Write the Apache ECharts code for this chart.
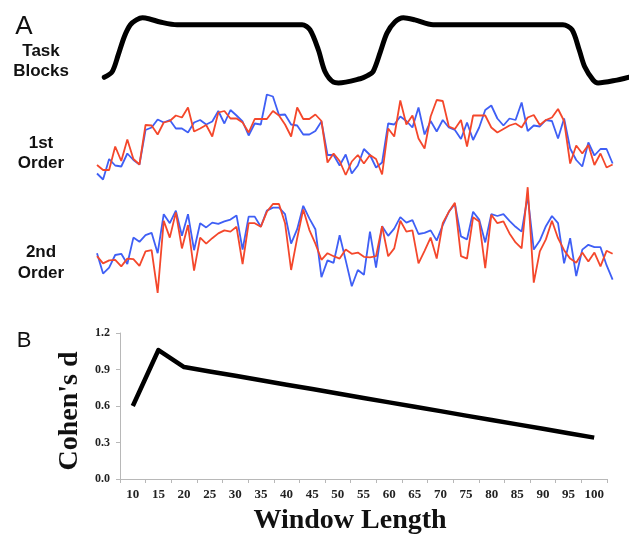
<!DOCTYPE html>
<html lang="en">
  <head>
    <meta charset="UTF-8" />
    <title>Task blocks and Cohen's d</title>
    <script src="https://cdn.jsdelivr.net/npm/echarts@6/dist/echarts.min.js"></script>
    <style>
      html, body { margin: 0; padding: 0; background: #fff; }
      #main { width: 629px; height: 536px; }
    </style>
  </head>
  <body>
    <div id="main"></div>
    <script>
      // task regressor, [time (volumes), level]
      var taskTime = [1.2, 2.5, 3.5, 4.5, 5.5, 6.5, 7.5, 8.8, 10.4, 13.2, 33.8, 35.1, 36.5, 37.6, 39, 39.8,
        43.4, 44.5, 45.5, 46.7, 47.8, 49.1, 50.5, 52.4, 55.4, 76.8, 78.3, 79.5, 80.4, 81.8, 82.6, 85.7, 87.7, 89.5];
      var taskLevel = [0.11, 0.19, 0.43, 0.69, 0.86, 0.93, 0.96, 0.94, 0.9, 0.86, 0.86, 0.79, 0.5, 0.19, 0.04, 0.03,
        0.09, 0.13, 0.19, 0.47, 0.74, 0.9, 0.96, 0.93, 0.86, 0.86, 0.79, 0.5, 0.26, 0.07, 0.03, 0.07, 0.11, 0.14];

      // 1st order, one value per volume
      var first_blue = [-0.77, -0.89, -0.48, -0.61, -0.63, -0.37, -0.5, -0.59, 0.1, 0.15, 0.31, 0.25, 0.3, 0.13, 0.13,
        0.05, 0.25, 0.3, 0.21, 0.27, 0.48, 0.23, 0.5, 0.39, 0.27, -0.01, 0.23, 0.21, 0.81, 0.77, 0.4, 0.41, 0.21, 0.19,
        0.01, 0.01, 0.08, 0.27, -0.4, -0.4, -0.61, -0.39, -0.77, -0.61, -0.28, -0.4, -0.65, -0.55, 0.23, 0.21, 0.37,
        0.28, 0.15, 0.55, 0.01, 0.28, 0.07, 0.3, 0.15, 0.1, -0.08, 0.25, -0.1, 0.15, 0.5, 0.59, 0.33, 0.19, 0.33, 0.3,
        0.65, 0.08, 0.19, 0.17, 0.3, 0.28, -0.07, 0.33, -0.27, -0.5, -0.63, -0.15, -0.41, -0.28, -0.28, -0.57];
      var first_red = [-0.6, -0.7, -0.7, -0.23, -0.52, -0.09, -0.48, -0.59, 0.2, 0.19, 0.01, 0.25, 0.28, 0.39, 0.35,
        0.55, 0.07, 0.13, 0.2, -0.03, 0.45, 0.48, 0.33, 0.33, 0.25, 0.05, 0.32, 0.32, 0.32, 0.48, 0.39, 0.21, -0.03,
        0.55, 0.32, 0.32, 0.41, 0.28, -0.55, -0.37, -0.52, -0.8, -0.53, -0.4, -0.57, -0.4, -0.48, -0.79, 0.13, -0.03,
        0.69, 0.21, 0.39, -0.07, -0.27, 0.37, 0.7, 0.68, 0.17, 0.12, 0.3, -0.23, 0.39, 0.39, 0.39, 0.15, 0.05, 0.12,
        0.19, 0.23, 0.15, 0.35, 0.4, 0.2, 0.3, 0.35, 0.52, 0.28, -0.57, -0.21, -0.37, -0.2, -0.6, -0.37, -0.65, -0.59];

      // 2nd order
      var second_blue = [-0.22, -0.56, -0.46, -0.25, -0.23, -0.4, 0.04, -0.03, 0.08, 0.12, -0.22, 0.43, 0.28, 0.49,
        0.07, 0.43, -0.17, 0.28, 0.21, 0.29, 0.27, 0.31, 0.34, 0.41, -0.16, 0.39, 0.39, 0.22, 0.49, 0.54, 0.54, 0.43,
        -0.06, 0.18, 0.57, 0.36, 0.18, -0.62, -0.34, -0.38, 0.08, -0.34, -0.77, -0.5, -0.58, 0.14, -0.46, 0.23, 0.07,
        0.19, 0.38, 0.29, 0.33, 0.1, 0.12, 0.16, -0.01, 0.25, 0.47, 0.6, 0.06, 0.01, 0.47, 0.34, -0.04, 0.43, 0.4, 0.43,
        0.32, 0.22, 0.14, 0.73, -0.16, -0.01, 0.23, 0.4, 0.28, -0.39, 0.03, -0.6, -0.16, -0.08, -0.12, -0.12, -0.42, -0.66];
      var second_red = [-0.27, -0.39, -0.34, -0.33, -0.44, -0.31, -0.32, -0.43, -0.19, -0.17, -0.88, 0.32, 0.04, 0.46,
        -0.14, 0.25, -0.51, 0.04, -0.06, 0.03, 0.11, 0.16, 0.14, 0.22, -0.4, 0.28, 0.28, 0.22, 0.47, 0.6, 0.6, 0.28,
        -0.5, 0.03, 0.51, 0.17, -0.06, -0.33, -0.22, -0.27, -0.31, -0.16, -0.23, -0.21, -0.28, -0.29, -0.27, 0.23, -0.27,
        -0.14, 0.32, 0.14, 0.16, -0.39, -0.18, 0.04, -0.31, 0.28, 0.47, 0.62, -0.27, -0.31, 0.38, 0.31, -0.47, 0.42, 0.28,
        0.31, 0.11, -0.04, -0.14, 0.88, -0.71, -0.19, 0.01, 0.32, 0.03, -0.17, -0.31, -0.38, -0.21, -0.36, -0.21, -0.44,
        -0.18, -0.23];

      // panel B
      var windows = ["10", "15", "20", "25", "30", "35", "40", "45", "50", "55", "60", "65", "70", "75", "80", "85", "90", "95", "100"];
      var cohensD = [0.6, 1.06, 0.92, 0.884, 0.848, 0.811, 0.775, 0.739, 0.703, 0.666, 0.63, 0.594, 0.558, 0.521,
        0.485, 0.449, 0.413, 0.376, 0.34];
      var yTicks = [0, 0.3, 0.6, 0.9, 1.2];

      var BLUE = "#3f5ff5";
      var RED = "#f4472b";
      var SANS = "Liberation Sans, Arial, sans-serif";
      var SERIF = "Liberation Serif, Times New Roman, serif";

      function pairs(t, v) {
        return t.map(function (x, i) { return [x, v[i]]; });
      }
      function idx(v) {
        return v.map(function (y, i) { return [i, y]; });
      }

      var topX = { type: "value", min: 0, max: 87.7, show: false };

      var myChart = echarts.init(document.getElementById("main"));
      var option = {
        animation: false,
        backgroundColor: "#fff",
        grid: [
          { left: 97, right: 0, top: 15, height: 70 },
          { left: 97, right: 0, top: 85, height: 100 },
          { left: 97, right: 0, top: 180, height: 120 },
          { left: 120, right: 22, top: 333, bottom: 57 }
        ],
        xAxis: [
          Object.assign({ gridIndex: 0 }, topX),
          Object.assign({ gridIndex: 1 }, topX),
          Object.assign({ gridIndex: 2 }, topX),
          {
            gridIndex: 3,
            type: "category",
            data: windows,
            boundaryGap: true,
            axisLine: { lineStyle: { color: "#b8b8b8", width: 1 } },
            axisTick: { show: true, length: 4, lineStyle: { color: "#b8b8b8" } },
            axisLabel: { color: "#222", fontFamily: SERIF, fontSize: 13, fontWeight: "bold", margin: 9 }
          }
        ],
        yAxis: [
          { gridIndex: 0, type: "value", min: 0, max: 1, show: false },
          { gridIndex: 1, type: "value", min: -1, max: 1, show: false },
          { gridIndex: 2, type: "value", min: -1, max: 1, show: false },
          {
            gridIndex: 3,
            type: "value",
            min: yTicks[0],
            max: yTicks[yTicks.length - 1],
            interval: 0.3,
            splitLine: { show: false },
            axisLine: { show: true, lineStyle: { color: "#b8b8b8", width: 1 } },
            axisTick: { show: true, length: 4, lineStyle: { color: "#b8b8b8" } },
            axisLabel: {
              color: "#222", fontFamily: SERIF, fontSize: 12, fontWeight: "bold", margin: 10,
              formatter: function (v) { return v.toFixed(1); }
            }
          }
        ],
        series: [
          {
            type: "line", xAxisIndex: 0, yAxisIndex: 0, data: pairs(taskTime, taskLevel),
            smooth: 0.3, showSymbol: false, lineStyle: { color: "#000", width: 5, cap: "round", join: "round" }
          },
          {
            type: "line", xAxisIndex: 1, yAxisIndex: 1, data: idx(first_blue),
            showSymbol: false, lineStyle: { color: BLUE, width: 1.8 }
          },
          {
            type: "line", xAxisIndex: 1, yAxisIndex: 1, data: idx(first_red),
            showSymbol: false, lineStyle: { color: RED, width: 1.8 }
          },
          {
            type: "line", xAxisIndex: 2, yAxisIndex: 2, data: idx(second_blue),
            showSymbol: false, lineStyle: { color: BLUE, width: 1.8 }
          },
          {
            type: "line", xAxisIndex: 2, yAxisIndex: 2, data: idx(second_red),
            showSymbol: false, lineStyle: { color: RED, width: 1.8 }
          },
          {
            type: "line", xAxisIndex: 3, yAxisIndex: 3, data: cohensD,
            showSymbol: false, lineStyle: { color: "#000", width: 4.5, join: "round" }
          }
        ],
        graphic: [
          { type: "text", x: 24, y: 27, style: { text: "A", font: "26px " + SANS, fill: "#111", textAlign: "center", textVerticalAlign: "middle" } },
          { type: "text", x: 41, y: 51, style: { text: "Task", font: "bold 17px " + SANS, fill: "#111", textAlign: "center", textVerticalAlign: "middle" } },
          { type: "text", x: 41, y: 71, style: { text: "Blocks", font: "bold 17px " + SANS, fill: "#111", textAlign: "center", textVerticalAlign: "middle" } },
          { type: "text", x: 41, y: 143, style: { text: "1st", font: "bold 17px " + SANS, fill: "#111", textAlign: "center", textVerticalAlign: "middle" } },
          { type: "text", x: 41, y: 163, style: { text: "Order", font: "bold 17px " + SANS, fill: "#111", textAlign: "center", textVerticalAlign: "middle" } },
          { type: "text", x: 41, y: 252, style: { text: "2nd", font: "bold 17px " + SANS, fill: "#111", textAlign: "center", textVerticalAlign: "middle" } },
          { type: "text", x: 41, y: 273, style: { text: "Order", font: "bold 17px " + SANS, fill: "#111", textAlign: "center", textVerticalAlign: "middle" } },
          { type: "text", x: 24, y: 341, style: { text: "B", font: "22px " + SANS, fill: "#111", textAlign: "center", textVerticalAlign: "middle" } },
          { type: "text", x: 70, y: 411, rotation: Math.PI / 2, style: { text: "Cohen's d", font: "bold 28px " + SERIF, fill: "#111", textAlign: "center", textVerticalAlign: "middle" } },
          { type: "text", x: 350, y: 521, style: { text: "Window Length", font: "bold 28px " + SERIF, fill: "#111", textAlign: "center", textVerticalAlign: "middle" } }
        ]
      };
      myChart.setOption(option);
    </script>
  </body>
</html>
